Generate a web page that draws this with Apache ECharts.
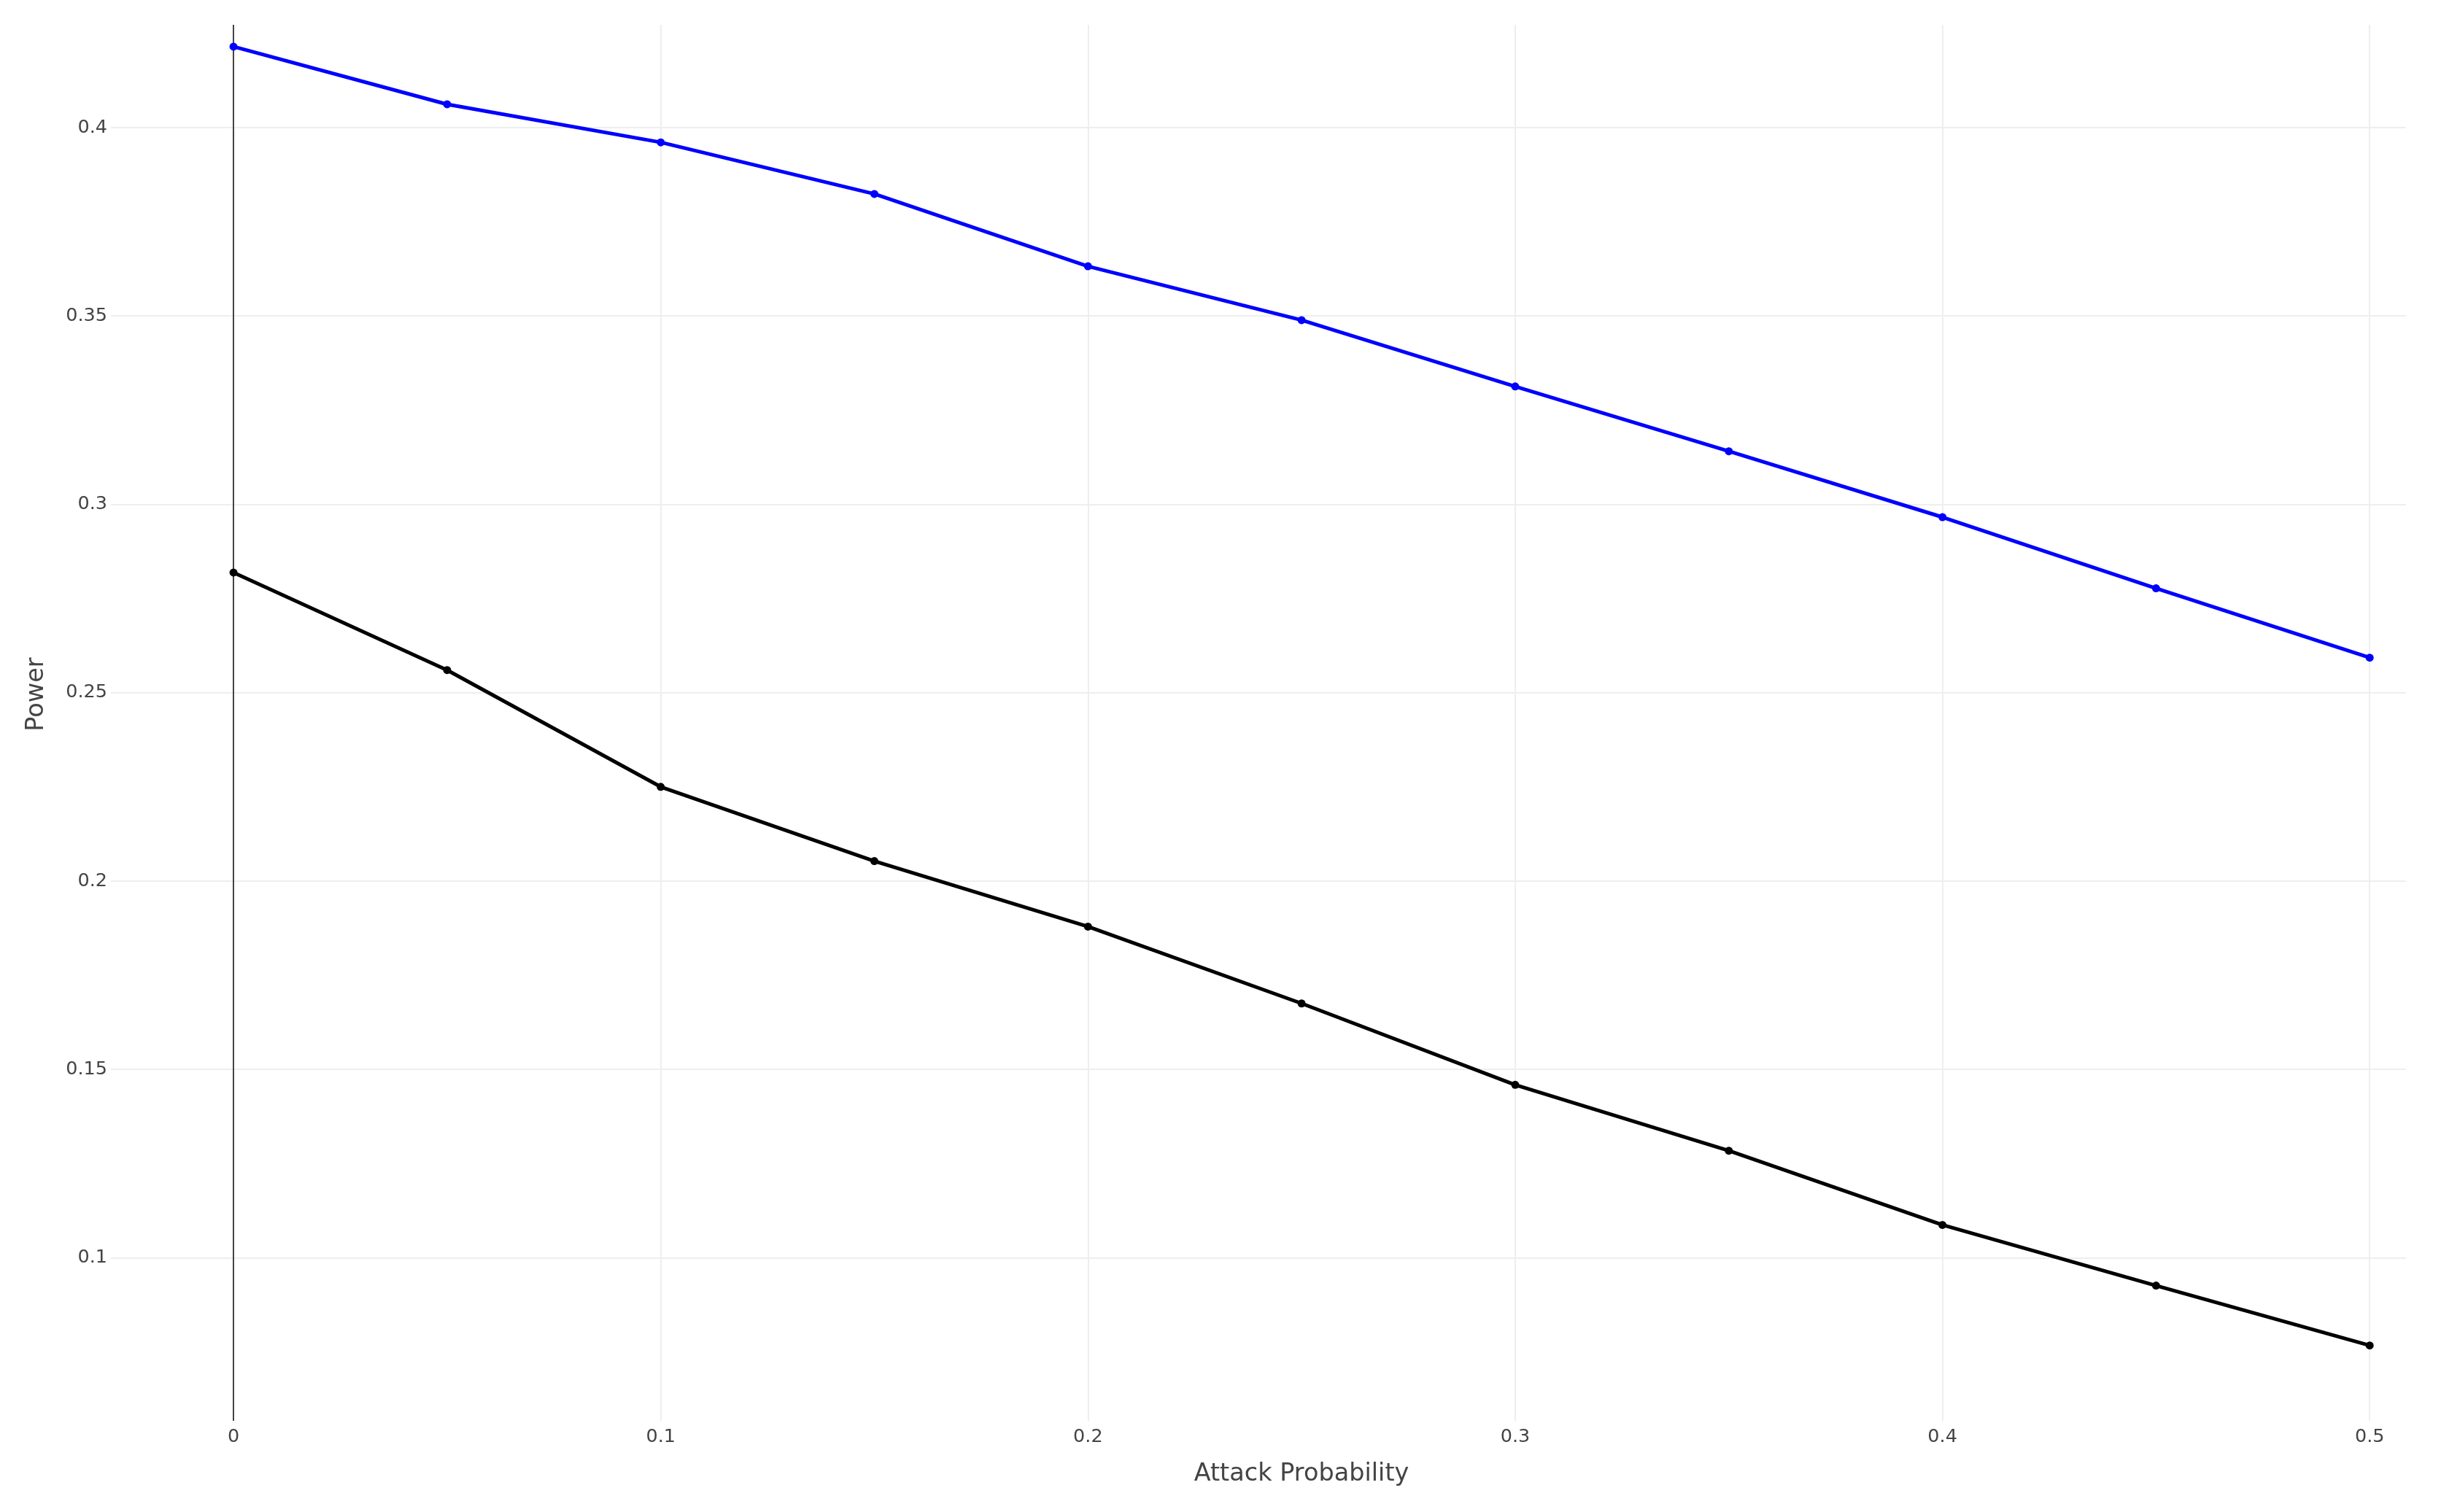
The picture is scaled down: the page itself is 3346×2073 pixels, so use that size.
<!DOCTYPE html>
<html>
<head>
<meta charset="utf-8">
<script src="https://cdn.jsdelivr.net/npm/echarts@6/dist/echarts.min.js"></script>
<style>
html,body{margin:0;padding:0;background:#fff;}
#chart{width:3346px;height:2073px;}
</style>
</head>
<body>
<div id="chart"></div>
<script>
const attackProb = [0, 0.05, 0.1, 0.15, 0.2, 0.25, 0.3, 0.35, 0.4, 0.45, 0.5];
const bluePower = [0.4215, 0.4062, 0.3961, 0.3824, 0.3632, 0.3489, 0.3313, 0.3141, 0.2966, 0.2777, 0.2593];
const blackPower = [0.2819, 0.2560, 0.2250, 0.2053, 0.1879, 0.1675, 0.1459, 0.1284, 0.1087, 0.0926, 0.0767];
const xTicks = [0, 0.1, 0.2, 0.3, 0.4, 0.5];
const yTicks = [0.1, 0.15, 0.2, 0.25, 0.3, 0.35, 0.4];
const xTitle = 'Attack Probability';
const yTitle = 'Power';

const FONT = '"DejaVu Sans", Verdana, sans-serif';
const chart = echarts.init(document.getElementById('chart'), null, {renderer: 'canvas'});

function zip(xs, ys) { return xs.map((x, i) => [x, ys[i]]); }

const option = {
  animation: false,
  backgroundColor: '#ffffff',
  grid: {left: 152, right: 48, top: 34, bottom: 125, containLabel: false},
  xAxis: {
    type: 'value',
    min: -0.0287,
    max: 0.5085,
    axisLine: {show: false},
    axisTick: {show: false, customValues: xTicks},
    axisLabel: {customValues: xTicks, color: '#444', fontFamily: FONT, fontSize: 25.5, margin: 9,
      formatter: v => String(+v.toFixed(2))},
    splitLine: {show: true, lineStyle: {color: '#eeeeee', width: 2}}
  },
  yAxis: {
    type: 'value',
    min: 0.0567,
    max: 0.4273,
    axisLine: {show: false},
    axisTick: {show: false, customValues: yTicks},
    axisLabel: {customValues: yTicks, color: '#444', fontFamily: FONT, fontSize: 25.5, margin: 5,
      formatter: v => String(+v.toFixed(2))},
    splitLine: {show: true, lineStyle: {color: '#eeeeee', width: 2}}
  },
  graphic: [
    {type: 'text', x: 1784, y: 2021,
      style: {text: xTitle, fill: '#444', font: '33.5px ' + FONT, align: 'center', verticalAlign: 'middle'}},
    {type: 'text', x: 50, y: 952, rotation: Math.PI / 2,
      style: {text: yTitle, fill: '#444', font: '33.5px ' + FONT, align: 'center', verticalAlign: 'middle'}}
  ],
  series: [
    {
      type: 'line',
      data: zip(attackProb, blackPower),
      symbol: 'circle',
      symbolSize: 11,
      showAllSymbol: true,
      lineStyle: {color: '#000000', width: 5},
      itemStyle: {color: '#000000'},
      z: 3,
      markLine: {
        silent: true,
        symbol: 'none',
        label: {show: false},
        lineStyle: {color: '#444444', width: 2, type: 'solid'},
        data: [{xAxis: 0}],
        z: 1
      }
    },
    {
      type: 'line',
      data: zip(attackProb, bluePower),
      symbol: 'circle',
      symbolSize: 11,
      showAllSymbol: true,
      lineStyle: {color: '#0000ff', width: 5},
      itemStyle: {color: '#0000ff'},
      z: 3
    }
  ]
};
chart.setOption(option);
</script>
</body>
</html>
